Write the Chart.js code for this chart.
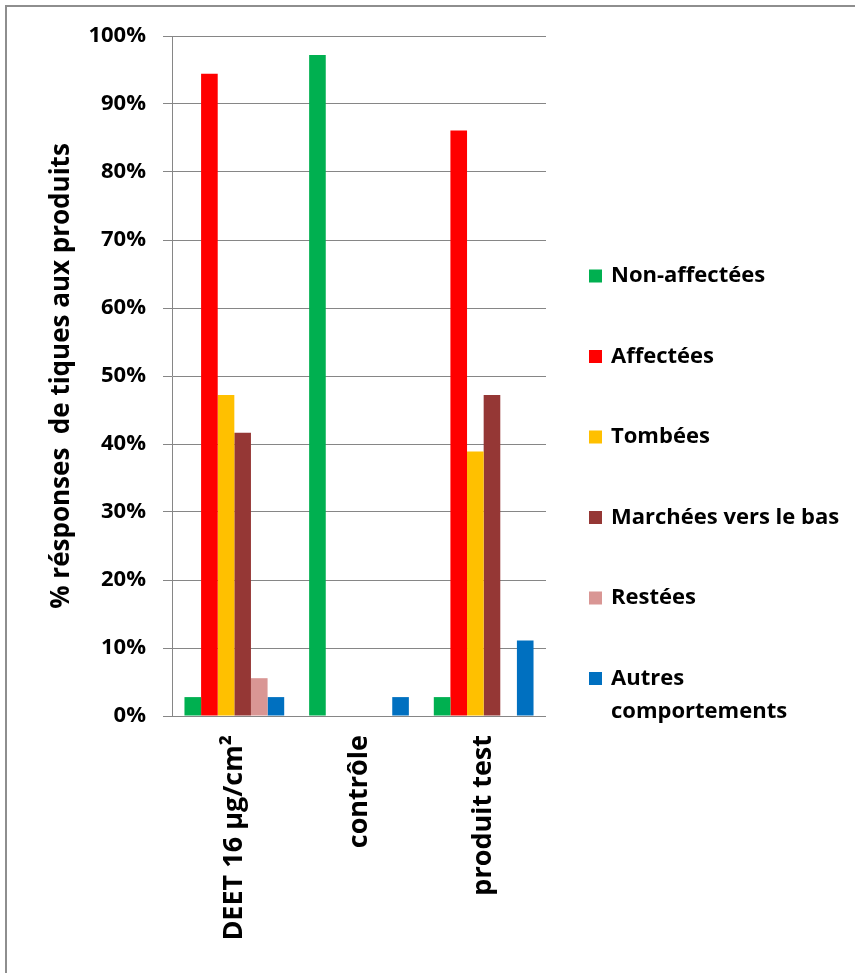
<!DOCTYPE html>
<html lang="fr">
<head>
<meta charset="utf-8">
<title>Réponses des tiques aux produits</title>
<script src="https://cdn.jsdelivr.net/npm/chart.js@4.4.1/dist/chart.umd.min.js"></script>
<style>
  html, body { margin: 0; padding: 0; background: #ffffff; }
  #wrap { position: relative; width: 855px; height: 973px; }
  #frame { position: absolute; left: 5px; top: 5px; right: 0; bottom: 0;
           border-top: 2px solid #8e8e8e; border-left: 2px solid #8e8e8e; }
  #chart { position: absolute; left: 0; top: 0; }
</style>
</head>
<body>
<div id="wrap">
  <div id="frame"></div>
  <canvas id="chart" width="855" height="973"></canvas>
</div>
<script>
// Categories (products tested)
const categories = ['DEET 16 µg/cm²', 'contrôle', 'produit test'];

// Share of ticks (%) showing each response, per product
const nonAffectees = [2.78, 97.22, 2.78];
const affectees    = [94.44, 0, 86.11];
const tombees      = [47.22, 0, 38.89];
const marchees     = [41.67, 0, 47.22];
const restees      = [5.56, 0, 0];
const autres       = [2.78, 2.78, 11.11];

const seriesNames = ['Non-affectées', 'Affectées', 'Tombées', 'Marchées vers le bas', 'Restées', 'Autres comportements'];
const seriesColors = ['#00b050', '#ff0000', '#ffc000', '#953735', '#d99694', '#0070c0'];
const seriesValues = [nonAffectees, affectees, tombees, marchees, restees, autres];

const yTitle = '% résponses  de tiques aux produits';

const FONT = '"Open Sans", "Liberation Sans", sans-serif';

// Legend drawn at the right of the plot, one entry per series,
// long names wrapped onto two lines.
const sideLegend = {
  id: 'sideLegend',
  afterDraw(chart) {
    const ctx = chart.ctx;
    const x0 = 589, box = 13, textX = 611;
    const firstY = 276, step = 80.5, lineH = 33;
    ctx.save();
    ctx.font = 'bold 22px ' + FONT;
    ctx.textBaseline = 'middle';
    ctx.textAlign = 'left';
    chart.data.datasets.forEach((ds, i) => {
      const cy = firstY + i * step;
      ctx.fillStyle = ds.backgroundColor;
      ctx.fillRect(x0, cy - box / 2, box, box);
      ctx.fillStyle = '#000000';
      const lines = ds.label === 'Autres comportements' ? ['Autres', 'comportements'] : [ds.label];
      lines.forEach((t, k) => ctx.fillText(t, textX, cy + k * lineH));
    });
    ctx.restore();
  }
};

new Chart(document.getElementById('chart'), {
  type: 'bar',
  data: {
    labels: categories,
    datasets: seriesNames.map((name, i) => ({
      label: name,
      data: seriesValues[i],
      backgroundColor: seriesColors[i],
      borderWidth: 0,
      barPercentage: 1.0,
      categoryPercentage: 0.8
    }))
  },
  options: {
    responsive: false,
    animation: false,
    layout: { padding: { left: 0, top: 36, right: 309, bottom: 0 } },
    plugins: {
      legend: { display: false },
      tooltip: { enabled: false }
    },
    scales: {
      x: {
        grid: { display: false, drawTicks: false },
        border: { display: false },
        ticks: {
          color: '#000000',
          font: { family: FONT, size: 27, weight: 'bold' },
          minRotation: 90,
          maxRotation: 90,
          padding: 19
        },
        afterFit(scale) { scale.height = 973 - 716; }
      },
      y: {
        min: 0,
        max: 100,
        grid: { color: '#868686', lineWidth: 1, tickLength: 9, drawTicks: true },
        border: { display: true, color: '#868686', width: 1 },
        ticks: {
          stepSize: 10,
          color: '#000000',
          padding: 17,
          font: { family: FONT, size: 22, weight: 'bold' },
          callback: (v) => v + '%'
        },
        title: {
          display: true,
          text: yTitle,
          color: '#000000',
          font: { family: FONT, size: 26, weight: 'bold' },
          padding: { top: 46, bottom: 0 }
        },
        afterFit(scale) { scale.width = 172; }
      }
    }
  },
  plugins: [sideLegend]
});
</script>
</body>
</html>
